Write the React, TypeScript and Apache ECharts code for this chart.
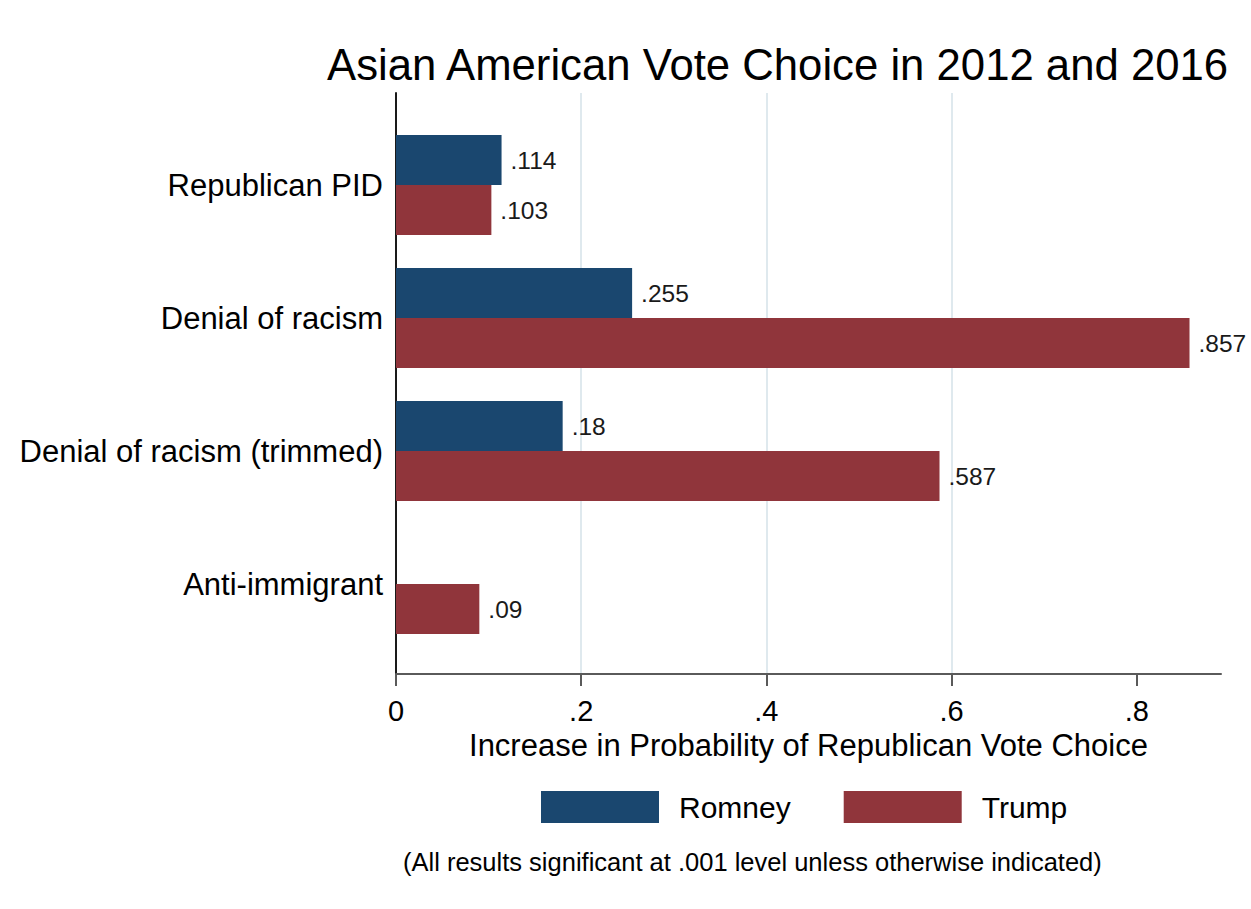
import React, { useEffect, useRef } from "react";
import * as echarts from "echarts";

const categories = ["Republican PID", "Denial of racism", "Denial of racism (trimmed)", "Anti-immigrant"];
const romney = [0.114, 0.255, 0.18, null];
const trump = [0.103, 0.857, 0.587, 0.09];
const xTicks = [0, 0.2, 0.4, 0.6, 0.8];
const titleText = "Asian American Vote Choice in 2012 and 2016";
const xAxisTitle = "Increase in Probability of Republican Vote Choice";
const noteText = "(All results significant at .001 level unless otherwise indicated)";

const FONT = "'Liberation Sans', Arial, sans-serif";
const fmt = (v: number) => String(v).replace(/^0(?=\.)/, "");

export default function App() {
  const ref = useRef<HTMLDivElement>(null);
  useEffect(() => {
    if (!ref.current) return;
    const chart = echarts.init(ref.current, null, { renderer: "svg" });
    const XMAX = 0.891;
    const labelCfg = {
      show: true,
      position: "right",
      distance: 9,
      fontSize: 24.5,
      fontFamily: FONT,
      color: "#1a1a1a",
      formatter: (p: any) => fmt(p.value),
    };
    chart.setOption({
      animation: false,
      backgroundColor: "#ffffff",
      title: {
        text: titleText,
        left: 327,
        top: 42,
        padding: 0,
        textStyle: { fontSize: 43.7, fontWeight: "normal", color: "#000", fontFamily: FONT },
      },
      legend: {
        data: ["Romney", "Trump"],
        left: 541,
        top: 791,
        padding: 0,
        itemWidth: 118,
        itemHeight: 32,
        itemGap: 53,
        icon: "rect",
        textStyle: { fontSize: 30, color: "#000", fontFamily: FONT, padding: [0, 0, 0, 15] },
      },
      graphic: [
        {
          type: "text",
          left: 403,
          top: 849,
          style: { text: noteText, fontSize: 25.5, fontFamily: FONT, fill: "#000" },
        },
      ],
      grid: [
        { left: 396, right: 30, top: 93, bottom: 235 },
        { left: 396, right: 30, top: 118.5, bottom: 258.5 },
      ],
      xAxis: [
        {
          gridIndex: 0,
          type: "value",
          min: 0,
          max: XMAX,
          interval: 0.2,
          name: xAxisTitle,
          nameLocation: "middle",
          nameGap: 56,
          nameTextStyle: { fontSize: 31, color: "#000", fontFamily: FONT },
          axisLine: { show: true, onZero: false, lineStyle: { color: "#5a5a5a", width: 2 } },
          axisTick: { show: true, length: 12, lineStyle: { color: "#5a5a5a", width: 2 }, customValues: xTicks },
          axisLabel: {
            fontSize: 29,
            margin: 22,
            color: "#000",
            fontFamily: FONT,
            customValues: xTicks,
            formatter: (v: number) => fmt(v),
          },
          splitLine: { show: true, showMaxLine: false, lineStyle: { color: "#dfe9ee", width: 2 } },
        },
        {
          gridIndex: 1,
          type: "value",
          min: 0,
          max: XMAX,
          show: false,
          splitLine: { show: false },
        },
      ],
      yAxis: [
        {
          gridIndex: 0,
          type: "value",
          min: 0,
          max: 1,
          axisLine: { show: true, lineStyle: { color: "#1a1a1a", width: 2 } },
          axisTick: { show: false },
          axisLabel: { show: false },
          splitLine: { show: false },
        },
        {
          gridIndex: 1,
          type: "category",
          inverse: true,
          data: categories,
          axisLine: { show: false },
          axisTick: { show: false },
          axisLabel: { fontSize: 31, margin: 13, color: "#000", fontFamily: FONT },
          splitLine: { show: false },
        },
      ],
      series: [
        {
          name: "Romney",
          type: "bar",
          xAxisIndex: 1,
          yAxisIndex: 1,
          data: romney,
          barWidth: 50,
          barGap: "0%",
          itemStyle: { color: "#1a476f" },
          label: labelCfg,
        },
        {
          name: "Trump",
          type: "bar",
          xAxisIndex: 1,
          yAxisIndex: 1,
          data: trump,
          barWidth: 50,
          barGap: "0%",
          itemStyle: { color: "#90353b" },
          label: labelCfg,
        },
      ],
    });
    return () => chart.dispose();
  }, []);
  return (
    <div
      ref={ref}
      style={{ position: "fixed", left: 0, top: 0, width: 1251, height: 909, background: "#fff" }}
    />
  );
}
